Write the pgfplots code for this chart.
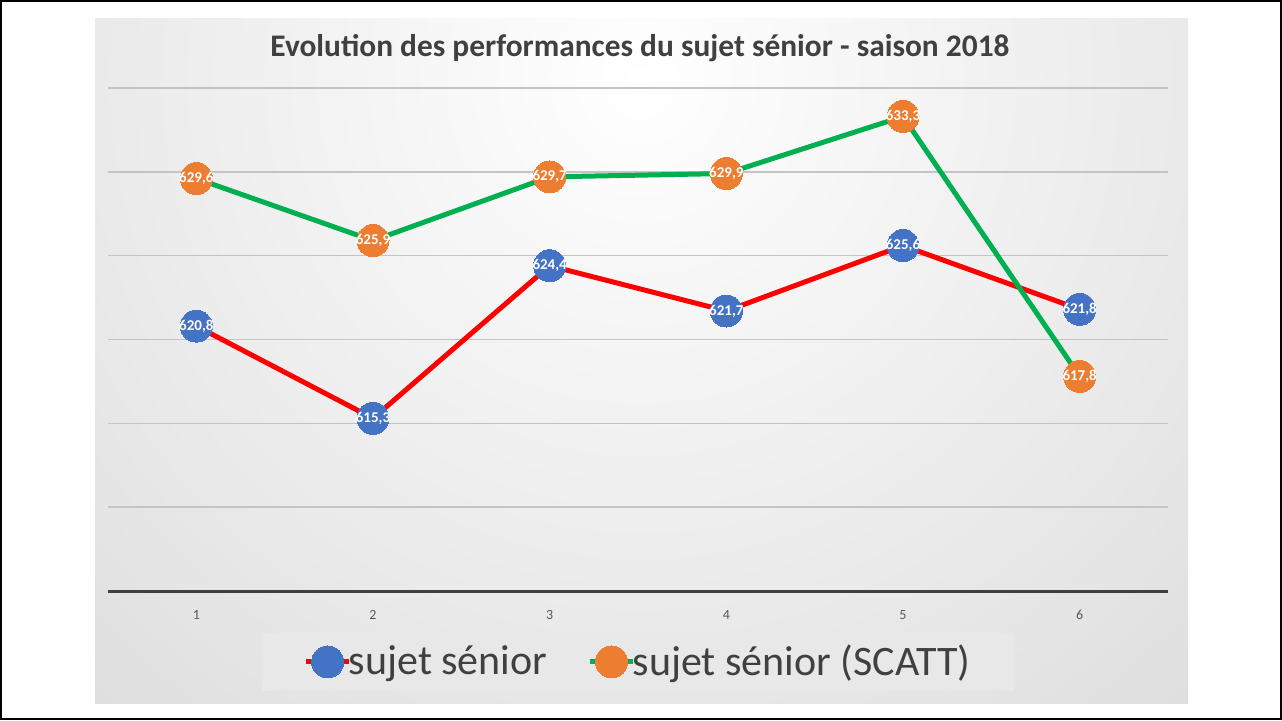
\documentclass[border=0pt]{standalone}
\usepackage{fontspec}
\setmainfont{Carlito}
\usepackage{pgfplots}
\pgfplotsset{compat=1.18}
\definecolor{serblue}{HTML}{4472C4}
\definecolor{serorange}{HTML}{ED7D31}
\definecolor{linered}{HTML}{FF0000}
\definecolor{linegreen}{HTML}{00B050}
\definecolor{txt}{HTML}{404040}
\definecolor{gridc}{HTML}{C4C4C4}
\begin{document}
\begin{tikzpicture}[x=0.5pt,y=0.5pt]
% frame and chart area
\draw[black,line width=1pt,fill=white] (1,1) rectangle (1281,719);
\begin{scope}
  \clip (95,17) rectangle (1188,702);
  \shade[inner color=white,outer color=black!25] (640,640) circle (1650);
\end{scope}
\node[font=\bfseries\fontsize{15.7}{18}\selectfont,text=txt] at (640,672)
  {Evolution des performances du sujet sénior - saison 2018};
\begin{axis}[
  at={(54pt,64.5pt)}, anchor=south west,
  scale only axis, width=530pt, height=251.5pt,
  xmin=0.5, xmax=6.5, ymin=605, ymax=635,
  axis x line*=bottom, axis y line*=left,
  x axis line style={draw=black!75,line width=1.5pt},
  y axis line style={draw=none},
  xtick={1,...,6}, xticklabels={1,2,3,4,5,6},
  ytick={605,610,...,635}, yticklabels={},
  major tick length=0pt,
  ymajorgrids, grid style={gridc,line width=0.8pt},
  xticklabel style={font=\fontsize{7}{8}\selectfont,text=black!65,yshift=-6pt},
  /pgf/number format/assume math mode=true,
  /pgf/number format/.cd, use comma, fixed, fixed zerofill, precision=1, /pgfplots/.cd,
  clip=false,
  nodes near coords,
  every node near coord/.append style={anchor=center,inner sep=0pt,
    font=\bfseries\fontsize{7.5}{9}\selectfont,text=white},
  legend columns=2,
  legend image code/.code={
    \draw[mark repeat=2,mark phase=2] plot coordinates {(0cm,0cm)(0.38cm,0cm)(0.76cm,0cm)};},
  legend style={at={(0.5,-0.141)},anchor=center,draw=none,fill=black!9,
    font=\fontsize{21}{24}\selectfont,text=txt,inner xsep=21pt,inner ysep=4pt,
    nodes={inner xsep=1pt},
    /tikz/every odd column/.append style={column sep=-2.5pt},
    /tikz/every even column/.append style={column sep=19pt}},
]
\addplot[linered,line width=2.5pt,mark=*,mark size=8pt,
  mark options={solid,fill=serblue,draw=serblue,line width=0pt}]
  coordinates {(1,620.8)(2,615.3)(3,624.4)(4,621.7)(5,625.6)(6,621.8)};
\addlegendentry{sujet sénior}
\addplot[linegreen,line width=2.5pt,mark=*,mark size=8pt,
  mark options={solid,fill=serorange,draw=serorange,line width=0pt}]
  coordinates {(1,629.6)(2,625.9)(3,629.7)(4,629.9)(5,633.3)(6,617.8)};
\addlegendentry{sujet sénior (SCATT)}
\end{axis}
\end{tikzpicture}
\end{document}
